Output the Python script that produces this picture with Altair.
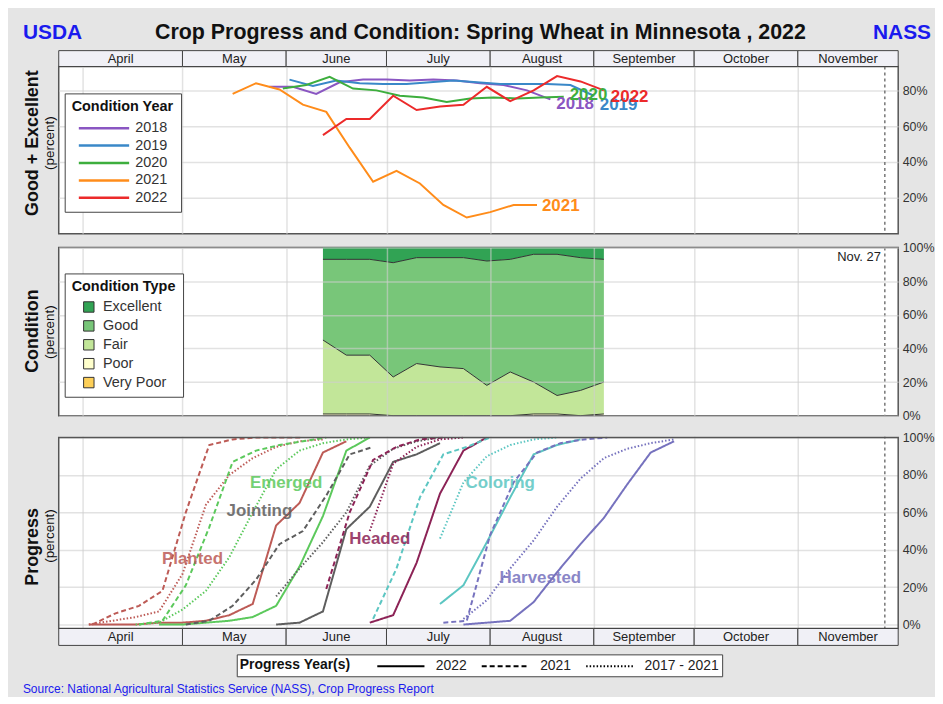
import altair as alt
import pandas as pd

FONT = "Liberation Sans"

# ---------------- month strip ----------------
month_names = ["April", "May", "June", "July", "August", "September", "October", "November"]
month_starts = ["2022-03-25", "2022-05-01", "2022-06-01", "2022-07-01", "2022-08-01",
                "2022-09-01", "2022-10-01", "2022-11-01"]
month_ends = ["2022-05-01", "2022-06-01", "2022-07-01", "2022-08-01", "2022-09-01",
              "2022-10-01", "2022-11-01", "2022-12-01"]
season_end = ["2022-11-27"]

# ---------------- good + excellent by year ----------------
cond_years = ["2018", "2019", "2020", "2021", "2022"]
cond_year_colors = ["#8a56c2", "#3a88c8", "#3dae3d", "#ff8c1a", "#ec2a2a"]
ge_first_week = ["2022-05-27", "2022-06-02", "2022-05-31", "2022-05-16", "2022-06-12"]
ge_2018 = [82, 82, 78, 84.5, 86, 86, 85.5, 86, 85.5, 84, 83, 80, 75]
ge_2019 = [86, 82.5, 85.5, 84, 83.5, 83.5, 84.5, 85.5, 84.5, 83.5, 83.5, 83.5, 83, 77]
ge_2020 = [81, 83, 87.5, 81, 80, 77, 76, 73.5, 75.5, 76, 75.5, 76, 76.5]
ge_2021 = [78, 84, 80.5, 72, 68, 48, 29, 35, 28, 16, 9, 12, 16, 16]
ge_2022 = [55, 64, 64, 77, 69, 71, 72, 82, 74, 80, 88, 85, 80]

# ---------------- condition 2022 ----------------
cond_types = ["Excellent", "Good", "Fair", "Poor", "Very Poor"]
cond_colors = ["#31a354", "#78c679", "#c2e699", "#ffffcc", "#fdcf58"]
cond_first_week = "2022-06-12"
excellent = [7, 7, 7, 9, 6, 6, 6, 8, 7, 4, 4, 6, 7]
good = [48, 57, 57, 68, 63, 65, 66, 74, 67, 76, 84, 79, 73]
fair = [44, 35, 35, 23, 31, 29, 28, 18, 26, 19, 11, 15, 19]
poor = [1, 1, 1, 0, 0, 0, 0, 0, 0, 1, 1, 0, 1]
very_poor = [0, 0, 0, 0, 0, 0, 0, 0, 0, 0, 0, 0, 0]

# ---------------- progress ----------------
stages = ["Planted", "Emerged", "Jointing", "Headed", "Coloring", "Harvested"]
stage_colors = ["#bd5b56", "#5cc95c", "#5e5e5e", "#8c2356", "#5cc6c2", "#7672be"]
prog_types = ["2022", "2021", "2017 - 2021"]

planted_2022 = [0, 0, 0, 1, 1, 2, 5, 11, 53, 65, 92, 98]
planted_2021 = [0, 6, 10, 18, 60, 96, 99, 100, 100, 100]
planted_avg = [0, 2, 4, 7, 27, 64, 80, 89, 95, 98, 99]
emerged_2022 = [0, 0, 1, 2, 4, 10, 31, 58, 93, 100]
emerged_2021 = [0, 2, 21, 52, 87, 93, 96, 98, 100]
emerged_avg = [0, 1, 8, 18, 36, 60, 83, 93, 97, 99, 100]
jointing_2022 = [0, 1, 7, 51, 63, 87, 91, 97]
jointing_2021 = [0, 2, 10, 24, 43, 50, 69, 91, 95]
jointing_avg = [15, 30, 44, 60, 85, 94, 98, 100]
headed_2022 = [1, 5, 33, 70, 93, 100]
headed_2021 = [19, 60, 88, 95, 99, 100]
headed_avg = [50, 86, 95, 99, 100]
coloring_2022 = [11, 21, 44, 68, 91, 96, 99]
coloring_2021 = [3, 30, 68, 91, 95, 100]
coloring_avg = [46, 76, 90, 96, 99, 100]
harvested_2022 = [0, 1, 2, 12, 28, 43, 57, 75, 92, 98]
harvested_2021 = [1, 2, 48, 76, 92, 97, 99, 100]
harvested_avg = [3, 13, 30, 45, 63, 78, 89, 94, 97, 99]

progress_series = [
    ("Planted", "2022", "2022-04-03", planted_2022),
    ("Planted", "2021", "2022-04-04", planted_2021),
    ("Planted", "2017 - 2021", "2022-04-03", planted_avg),
    ("Emerged", "2022", "2022-04-24", emerged_2022),
    ("Emerged", "2021", "2022-04-18", emerged_2021),
    ("Emerged", "2017 - 2021", "2022-04-17", emerged_avg),
    ("Jointing", "2022", "2022-05-29", jointing_2022),
    ("Jointing", "2021", "2022-05-02", jointing_2021),
    ("Jointing", "2017 - 2021", "2022-05-29", jointing_avg),
    ("Headed", "2022", "2022-06-26", headed_2022),
    ("Headed", "2021", "2022-06-13", headed_2021),
    ("Headed", "2017 - 2021", "2022-06-26", headed_avg),
    ("Coloring", "2022", "2022-07-17", coloring_2022),
    ("Coloring", "2021", "2022-06-27", coloring_2021),
    ("Coloring", "2017 - 2021", "2022-07-17", coloring_avg),
    ("Harvested", "2022", "2022-07-24", harvested_2022),
    ("Harvested", "2021", "2022-07-18", harvested_2021),
    ("Harvested", "2017 - 2021", "2022-07-24", harvested_avg),
]

stage_label_dates = ["2022-05-04", "2022-06-01", "2022-05-24", "2022-06-29", "2022-08-04", "2022-08-16"]
stage_label_values = [35, 75.5, 60.5, 45.7, 75.5, 24.7]


# ---------------- helpers ----------------
def weekly(start, n):
    return [d.strftime("%Y-%m-%d") for d in pd.date_range(start, periods=n, freq="7D")]


def dt(m, d):
    return alt.DateTime(year=2022, month=m, date=d, utc=True)


XDOM = [dt(3, 25), dt(12, 1)]
GRID_X = [dt(m, 1) for m in range(4, 12)]
W = 844
BG = "#e5e5e5"


def xenc(field, z=0):
    return alt.X(f"{field}:T", scale=alt.Scale(domain=XDOM),
                 axis=alt.Axis(values=GRID_X, labels=False, ticks=False, domain=False, grid=True,
                               title=None, gridColor="#cfcfcf", gridOpacity=0.6, gridWidth=1.5,
                               zindex=z))


def yenc(field, domain, values, z=0):
    return alt.Y(f"{field}:Q", scale=alt.Scale(domain=domain, nice=False, zero=False),
                 axis=alt.Axis(orient="right", values=values, labelExpr="datum.value + '%'",
                               ticks=False, domain=False, title=None, grid=True,
                               gridColor="#cfcfcf", gridOpacity=0.6, gridWidth=1.5,
                               labelPadding=4, labelFontSize=12.5, labelColor="#333",
                               labelFont=FONT, zindex=z))


def one():
    return alt.Chart(pd.DataFrame({"t": [""]}))


def note(txt, x, y, **kw):
    return alt.Chart(pd.DataFrame({"t": [txt]})).mark_text(font=FONT, **kw).encode(
        x=alt.value(x), y=alt.value(y), text="t:N")


months_df = pd.DataFrame({"month": month_names, "start": month_starts, "end": month_ends})
months_df["mid"] = [(pd.Timestamp(a) + (pd.Timestamp(b) - pd.Timestamp(a)) / 2).strftime("%Y-%m-%dT%H:%M:%SZ")
                    for a, b in zip(month_starts, month_ends)]
end_df = pd.DataFrame({"date": season_end})


def strip(y0, y1):
    rect = alt.Chart(months_df).mark_rect(fill="#f0f0f6", stroke="#444", strokeWidth=1).encode(
        x=xenc("start"), x2="end:T", y=alt.value(y0), y2=alt.value(y1))
    txt = alt.Chart(months_df).mark_text(font=FONT, fontSize=13, color="#222").encode(
        x=xenc("mid"), y=alt.value((y0 + y1) / 2 + 0.5), text="month:N")
    return [rect, txt]


def end_rule():
    return alt.Chart(end_df).mark_rule(color="#777", strokeDash=[3, 3], strokeWidth=1.5).encode(x=xenc("date"))


# ---------------- top panel ----------------
rows = []
for yr, start, vals in zip(cond_years, ge_first_week, [ge_2018, ge_2019, ge_2020, ge_2021, ge_2022]):
    for d, v in zip(weekly(start, len(vals)), vals):
        rows.append({"date": d, "year": yr, "v": v})
ge_df = pd.DataFrame(rows)
TOP_DOM = [0, 93.3]

ge_lines = alt.Chart(ge_df).mark_line(strokeWidth=2).encode(
    x=xenc("date"), y=yenc("v", TOP_DOM, [20, 40, 60, 80]),
    color=alt.Color("year:N", scale=alt.Scale(domain=cond_years, range=cond_year_colors),
                    legend=alt.Legend(title="Condition Year", orient="none", legendX=6, legendY=27,
                                      fillColor="white", strokeColor="#444", padding=7,
                                      symbolType="M-3.2,0H3.2", symbolSize=250, symbolStrokeWidth=2.5,
                                      symbolOffset=23, labelOffset=22,
                                      labelFontSize=14.5, titleFontSize=14.5, titleFontWeight="bold",
                                      titleColor="#111", labelColor="#333", rowPadding=1.5,
                                      titlePadding=4, labelFont=FONT, titleFont=FONT, zindex=2)))

label_offsets = {"2018": (6, 5), "2019": (6, 9), "2020": (6, -2), "2021": (5, 1), "2022": (7, 7)}
year_labels = []
for yr, col in zip(cond_years, cond_year_colors):
    last = ge_df[ge_df.year == yr].tail(1)
    dx, dy = label_offsets[yr]
    year_labels.append(alt.Chart(last).mark_text(font=FONT, fontSize=17, fontWeight="bold", color=col,
                                                 align="left", dx=dx, dy=dy).encode(
        x=xenc("date"), y=yenc("v", TOP_DOM, [20, 40, 60, 80]), text="year:N"))

top = alt.layer(
    end_rule(), ge_lines, *year_labels, *strip(-16, 0),
    note("USDA", -36, -34, fontSize=21, fontWeight="bold", color="#1a1aee", align="left"),
    note("NASS", 877, -34, fontSize=21, fontWeight="bold", color="#1a1aee", align="right"),
    note("Crop Progress and Condition: Spring Wheat in Minnesota , 2022", 424, -34,
         fontSize=21.5, fontWeight="bold", color="#111"),
    note("Good + Excellent", -26, 77, fontSize=18, fontWeight="bold", angle=270, color="#111"),
    note("(percent)", -9, 77, fontSize=13.5, angle=270, color="#111"),
).properties(width=W, height=168)

# ---------------- middle panel ----------------
cond_vals = {"Excellent": excellent, "Good": good, "Fair": fair, "Poor": poor, "Very Poor": very_poor}
stack_order = ["Very Poor", "Poor", "Fair", "Good", "Excellent"]
rows = []
for i, d in enumerate(weekly(cond_first_week, len(excellent))):
    base = 0
    for c in stack_order:
        t = base + cond_vals[c][i]
        rows.append({"date": d, "cond": c, "bot": base, "top": t})
        base = t
cond_df = pd.DataFrame(rows)
MID_DOM = [0, 100]

areas = alt.Chart(cond_df).mark_area().encode(
    x=xenc("date", 1), y=yenc("top", MID_DOM, [0, 20, 40, 60, 80, 100], 1), y2="bot:Q",
    color=alt.Color("cond:N", scale=alt.Scale(domain=cond_types, range=cond_colors),
                    legend=alt.Legend(title="Condition Type", orient="none", legendX=6, legendY=26,
                                      fillColor="white", strokeColor="#444", padding=7,
                                      symbolType="square", symbolSize=110, symbolStrokeColor="#333",
                                      symbolStrokeWidth=1, symbolOffset=10, labelOffset=7,
                                      labelFontSize=14.5, titleFontSize=14.5, titleFontWeight="bold",
                                      titleColor="#111", labelColor="#333", rowPadding=3,
                                      titlePadding=5, labelFont=FONT, titleFont=FONT, zindex=2)))
bounds = alt.Chart(cond_df[cond_df.cond != "Excellent"]).mark_line(color="#333", strokeWidth=1).encode(
    x=xenc("date", 1), y=yenc("top", MID_DOM, [0, 20, 40, 60, 80, 100], 1), detail="cond:N")
nov_txt = alt.Chart(end_df.assign(t="Nov. 27")).mark_text(font=FONT, fontSize=13, color="#222",
                                                          align="right", dx=-4).encode(
    x=xenc("date", 1), y=alt.value(10), text="t:N")

middle = alt.layer(
    areas, bounds, end_rule(), nov_txt,
    note("Condition", -26, 84, fontSize=18, fontWeight="bold", angle=270, color="#111"),
    note("(percent)", -9, 85, fontSize=13.5, angle=270, color="#111"),
).properties(width=W, height=169)

# ---------------- bottom panel ----------------
# view spans a 8px gap above the plot frame; the frame is drawn as its own rect
rows = []
for stg, typ, start, vals in progress_series:
    for d, v in zip(weekly(start, len(vals)), vals):
        rows.append({"date": d, "stage": stg, "type": typ, "series": stg + typ, "v": v})
prog_df = pd.DataFrame(rows)
BOT_DOM = [-2.128, 104.255]
BOT_TICKS = [0, 20, 40, 60, 80, 100]
stage_scale = alt.Scale(domain=stages, range=stage_colors)

prog_lines = alt.Chart(prog_df).mark_line().encode(
    x=xenc("date"), y=yenc("v", BOT_DOM, BOT_TICKS),
    color=alt.Color("stage:N", scale=stage_scale, legend=None),
    strokeWidth=alt.StrokeWidth("type:N", scale=alt.Scale(domain=prog_types, range=[2, 2, 1.6]), legend=None),
    strokeDash=alt.StrokeDash("type:N", scale=alt.Scale(domain=prog_types, range=[[1, 0], [5, 3], [1.5, 2]]),
                              legend=alt.Legend(title="Progress Year(s)", orient="none", direction="horizontal",
                                                columns=3, titleOrient="left", legendX=179, legendY=226,
                                                fillColor="white", strokeColor="#444", padding=3,
                                                symbolType="M-3,0H3", symbolSize=250, symbolStrokeWidth=3,
                                                symbolStrokeColor="black", symbolOffset=27, labelOffset=26,
                                                columnPadding=2,
                                                labelFontSize=14, titleFontSize=14, titleFontWeight="bold",
                                                titleColor="#111", labelColor="#222", titlePadding=14,
                                                labelFont=FONT, titleFont=FONT, zindex=2)),
    detail="series:N")

stage_lab_df = pd.DataFrame({"stage": stages, "date": stage_label_dates, "v": stage_label_values})
stage_labels = alt.Chart(stage_lab_df).mark_text(font=FONT, fontSize=17, fontWeight="bold", opacity=0.85).encode(
    x=xenc("date"), y=yenc("v", BOT_DOM, BOT_TICKS), text="stage:N",
    color=alt.Color("stage:N", scale=stage_scale, legend=None))

gap_cover = one().mark_rect(fill=BG).encode(
    x=alt.value(-1), x2=alt.value(W + 1), y=alt.value(-1), y2=alt.value(7.2))
frame = one().mark_rect(fillOpacity=0, stroke="#555", strokeWidth=1.5).encode(
    x=alt.value(0), x2=alt.value(W), y=alt.value(8), y2=alt.value(200))

bottom = alt.layer(
    end_rule(), prog_lines, stage_labels, gap_cover, frame, *strip(200, 217),
    note("Progress", -26, 118, fontSize=18, fontWeight="bold", angle=270, color="#111"),
    note("(percent)", -9, 107, fontSize=13.5, angle=270, color="#111"),
    note("Source: National Agricultural Statistics Service (NASS), Crop Progress Report", -36, 261,
         fontSize=12, color="#1a1aee", align="left"),
).properties(width=W, height=200, view=alt.ViewBackground(fill="white", strokeOpacity=0))

chart = alt.vconcat(top, middle, bottom, spacing=14, bounds="flush").resolve_scale(
    color="independent", strokeDash="independent", strokeWidth="independent", x="independent", y="independent"
).properties(
    background=BG, padding={"left": 14, "top": 11, "right": 0, "bottom": 0}
).configure_view(fill="white", stroke="#555", strokeWidth=1.5)

chart.save("out.html", embed_options={"renderer": "svg", "actions": False})
